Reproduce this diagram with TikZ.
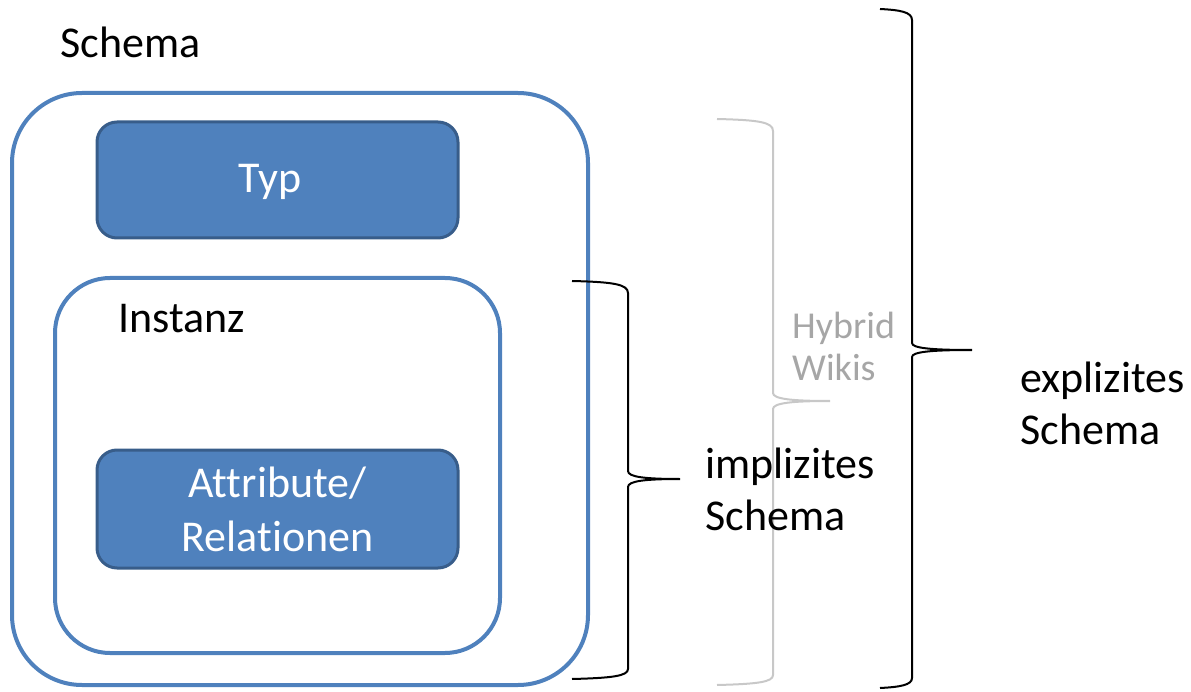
\documentclass[tikz,border=0pt]{standalone}
\usepackage{fontspec}
\setmainfont{Carlito}[Ligatures=NoCommon]
\definecolor{accent}{HTML}{4F81BD}
\definecolor{accentdark}{HTML}{385D8A}
\definecolor{hybridgray}{HTML}{A6A6A6}
\definecolor{bracegray}{HTML}{C8C8C8}
\begin{document}
\begin{tikzpicture}[x=1pt,y=-1pt,
  outerbox/.style={draw=accent,line width=4pt,fill=none,rectangle,inner sep=0pt},
  bluebox/.style={draw=accentdark,fill=accent,line width=3pt,rectangle,rounded corners=20pt,
     minimum width=361pt,minimum height=116pt,inner sep=0pt,text=white,align=center,
     font=\fontsize{44}{54}\selectfont},
  lbl/.style={font=\fontsize{44}{52}\selectfont,inner sep=0pt,align=left},
  hlbl/.style={font=\fontsize{38}{42}\selectfont,inner sep=0pt,align=left,text=hybridgray},
  brace/.style={draw=black,line width=2pt},
  graybrace/.style={draw=bracegray,line width=2pt}]
\useasboundingbox (0,0) rectangle (1191,692);
% outer schema box
\node[outerbox,rounded corners=70pt,minimum width=576pt,minimum height=592pt] (schemabox) at (300,389) {};
\node[lbl,anchor=base west] (schemalbl) at (60,58) {Schema};
% Typ
\node[bluebox] (typ) at (277.5,180) {};
\node[text=white,font=\fontsize{44}{54}\selectfont,inner sep=0pt] (typlbl) at (270,182) {Typ};
% Instanz box
\node[outerbox,rounded corners=55pt,minimum width=445pt,minimum height=375pt] (instbox) at (277.5,465.5) {};
\node[lbl,anchor=base west] (instlbl) at (118,333) {Instanz};
% Attribute/Relationen
\node[bluebox,minimum height=118pt] (attr) at (277.5,509) {Attribute/\\Relationen};
% braces
\coordinate (b1top) at (572,281);
\coordinate (b1tip) at (680,479);
\coordinate (b1bot) at (572,679);
\draw[brace] (b1top) .. controls (612,282) and (628,284) .. (628,293) -- (628,471)
  .. controls (628,477) and (645,479) .. (b1tip)
  .. controls (645,479) and (628,481) .. (628,487) -- (628,669)
  .. controls (628,676) and (612,678) .. (b1bot);
\coordinate (b2top) at (717,119);
\coordinate (b2tip) at (830,401);
\coordinate (b2bot) at (717,685);
\draw[graybrace] (b2top) .. controls (758,120) and (773,122) .. (773,131) -- (773,393)
  .. controls (773,399) and (792,401) .. (b2tip)
  .. controls (792,401) and (773,403) .. (773,409) -- (773,675)
  .. controls (773,682) and (758,684) .. (b2bot);
\coordinate (b3top) at (880,9);
\coordinate (b3tip) at (972,350);
\coordinate (b3bot) at (880,688);
\draw[brace] (b3top) .. controls (900,10) and (912,12) .. (912,20) -- (912,343)
  .. controls (912,348) and (930,350) .. (b3tip)
  .. controls (930,350) and (912,352) .. (912,357) -- (912,678)
  .. controls (912,685) and (900,687) .. (b3bot);
% labels
\node[hlbl,anchor=base west] (hyb) at (792,381) {Hybrid\\Wikis};
\node[lbl,anchor=base west] (impl) at (705,530) {implizites\\Schema};
\node[lbl,anchor=base west] (expl) at (1020,444) {explizites\\Schema};
\end{tikzpicture}
\end{document}
